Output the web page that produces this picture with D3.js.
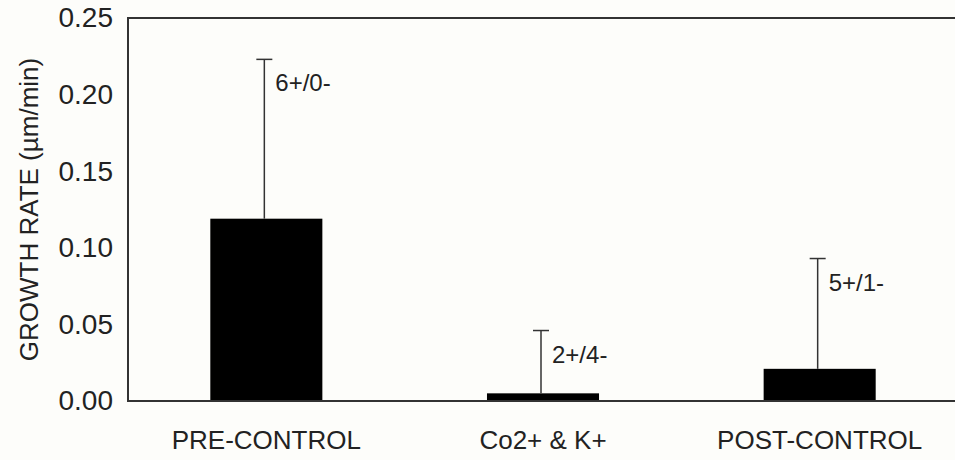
<!DOCTYPE html>
<html>
<head>
<meta charset="utf-8">
<script src="https://cdn.jsdelivr.net/npm/d3@7/dist/d3.min.js"></script>
<style>
  body { margin: 0; background: #fdfdfa; }
  svg { display: block; font-family: "Liberation Sans", Arial, sans-serif; }
</style>
</head>
<body>
<div id="chart"></div>
<script>
const w = 955;
const h = 460;

// data
const categories = ["PRE-CONTROL", "Co2+ & K+", "POST-CONTROL"];
const means = [0.119, 0.005, 0.021];
const errors = [0.104, 0.041, 0.072];
const counts = ["6+/0-", "2+/4-", "5+/1-"];
const yTicks = [0.00, 0.05, 0.10, 0.15, 0.20, 0.25];

const margin = { top: 18, right: -3, bottom: 59, left: 128 };

const svg = d3.select("#chart").append("svg")
    .attr("width", w)
    .attr("height", h);

const x = d3.scaleBand()
    .domain(categories)
    .range([margin.left, w - margin.right])
    .paddingInner(0.595)
    .paddingOuter(0.2975);

const y = d3.scaleLinear()
    .domain([0, 0.25])
    .range([h - margin.bottom, margin.top]);

//bars
svg.selectAll("rect.bar")
    .data(categories)
    .enter()
    .append("rect")
    .attr("class", "bar")
    .attr("x", d => x(d))
    .attr("width", x.bandwidth())
    .attr("y", (d, i) => y(means[i]))
    .attr("height", (d, i) => y(0) - y(means[i]))
    .style("fill", "#000");

//error bars (upper only)
const err = svg.selectAll("g.err")
    .data(categories)
    .enter()
    .append("g")
    .attr("class", "err")
    .attr("transform", d => "translate(" + (x(d) + x.bandwidth() / 2 - 2) + ",0)");

err.append("line")
    .attr("x1", 0).attr("x2", 0)
    .attr("y1", (d, i) => y(means[i]))
    .attr("y2", (d, i) => y(means[i] + errors[i]))
    .style("stroke", "#333")
    .style("stroke-width", 1.5);

err.append("line")
    .attr("x1", -8).attr("x2", 8)
    .attr("y1", (d, i) => y(means[i] + errors[i]))
    .attr("y2", (d, i) => y(means[i] + errors[i]))
    .style("stroke", "#333")
    .style("stroke-width", 1.5);

err.append("text")
    .attr("x", 11)
    .attr("y", (d, i) => y(means[i] + errors[i]) + 32)
    .text((d, i) => counts[i])
    .style("font-size", "24px")
    .style("fill", "#222");

//frame
svg.append("path")
    .attr("d", "M" + (w + 5) + "," + y(0.25) + "H" + margin.left + "V" + y(0) + "H" + (w + 5))
    .style("fill", "none")
    .style("stroke", "#333")
    .style("stroke-width", 2);

//y axis
const yAxis = d3.axisLeft(y)
    .tickValues(yTicks)
    .tickFormat(d3.format(".2f"))
    .tickSize(0)
    .tickPadding(15);

svg.append("g")
    .attr("transform", "translate(" + margin.left + ",0)")
    .call(yAxis)
    .call(g => g.select(".domain").remove())
    .selectAll("text")
    .style("font-size", "28px")
    .style("font-family", "Liberation Sans, Arial, sans-serif")
    .style("fill", "#222");

//x axis
const xAxis = d3.axisBottom(x)
    .tickSize(0)
    .tickPadding(30);

svg.append("g")
    .attr("transform", "translate(0," + y(0) + ")")
    .call(xAxis)
    .call(g => g.select(".domain").remove())
    .selectAll("text")
    .style("font-size", "26px")
    .style("font-family", "Liberation Sans, Arial, sans-serif")
    .style("fill", "#222");

//y title
svg.append("text")
    .attr("transform", "translate(38," + y(0.125) + ") rotate(-90)")
    .attr("text-anchor", "middle")
    .text("GROWTH RATE (µm/min)")
    .style("font-size", "26px")
    .style("fill", "#222");
</script>
</body>
</html>
